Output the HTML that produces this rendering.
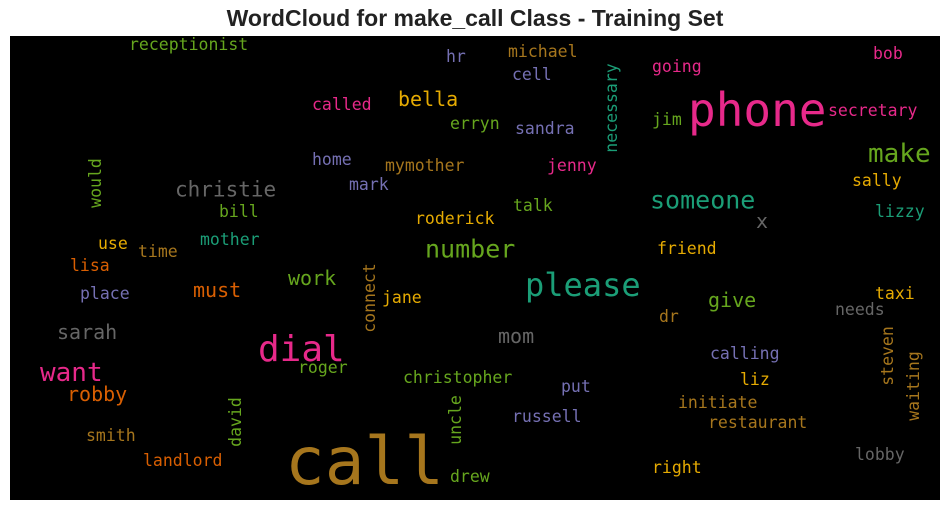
<!DOCTYPE html>
<html><head><meta charset="utf-8">
<style>
html,body{margin:0;padding:0;background:#fff;width:950px;height:511px;overflow:hidden}
#title{position:absolute;left:0;top:5px;width:950px;text-align:center;font:bold 23px "Liberation Sans",sans-serif;color:#222}
#cloud{position:absolute;left:10px;top:36px;width:930px;height:464px;background:#000;overflow:hidden}
.w{position:absolute;font-family:"DejaVu Sans Mono","Liberation Mono",monospace;line-height:1;white-space:nowrap}
</style></head><body>
<div id="title">WordCloud for make_call Class - Training Set</div>
<div id="cloud"></div>
<script>
const words=["call","phone","dial","please","want","number","someone","make","christie","sarah","robby","work","must","give","bella","mom","x",
"receptionist","michael","hr","cell","going","bob","called","erryn","sandra","jim","secretary","home","mymother","jenny","mark","sally","bill","roderick","talk","lizzy","use","time","mother","friend","lisa","place","jane","taxi","dr","needs","calling","roger","christopher","liz","put","initiate","russell","restaurant","smith","landlord","lobby","right","drew",
"would","necessary","connect","david","uncle","steven","waiting"];
const sizes=[66,46,36,32,26,25,25,26,21,20,20,20,20,20,20,20,20,
16.5,16.5,16.5,16.5,16.5,16.5,16.5,16.5,16.5,16.5,16.5,16.5,16.5,16.5,16.5,16.5,16.5,16.5,16.5,16.5,16.5,16.5,16.5,16.5,16.5,16.5,16.5,16.5,16.5,16.5,16.5,16.5,16.5,16.5,16.5,16.5,16.5,16.5,16.5,16.5,16.5,16.5,16.5,
16.5,16.5,16.5,16.5,16.5,16.5,16.5];
const P={teal:"#1b9e77",orange:"#d95f02",purple:"#7570b3",pink:"#e7298a",green:"#66a61e",yellow:"#e6ab02",brown:"#a6761d",gray:"#666666"};
const colors=["brown","pink","pink","teal","pink","green","teal","green","gray","gray","orange","green","orange","green","yellow","gray","gray",
"green","brown","purple","purple","pink","pink","pink","green","purple","green","pink","purple","brown","pink","purple","yellow","green","yellow","green","teal","yellow","brown","teal","yellow","orange","purple","yellow","yellow","brown","gray","purple","green","green","yellow","purple","brown","purple","brown","brown","orange","gray","yellow","green",
"green","teal","brown","green","green","brown","brown"];
const pos=[[285,462],[688,110],[258,350],[525,285],[40,373],[425,249],[650,200],[868,154],[175,190],[57,332],[67,394],[288,278],[193,290],[708,300],[398,99],[498,336],[756,221],
[129,45],[508,52],[446,57],[512,75],[652,67],[873,54],[312,105],[450,124],[515,129],[652,120],[828,111],[312,160],[385,166],[547,166],[349,185],[852,181],[219,212],[415,219],[513,206],[875,212],[98,244],[138,252],[200,240],[657,249],[70,266],[80,294],[382,298],[875,294],[659,317],[835,310],[710,354],[298,368],[403,378],[740,380],[561,387],[678,403],[512,417],[708,423],[86,436],[143,461],[855,455],[652,468],[450,477],
[96,183,1],[612,108,1],[370,298,1],[236,422,1],[456,420,1],[888,356,1],[914,386,1]];
const cloud=document.getElementById('cloud');
words.forEach((w,i)=>{
  const s=document.createElement('span');
  s.className='w';
  s.textContent=w;
  
  
  s.style.fontSize=sizes[i]+'px';
  s.style.color=P[colors[i]];
  const p=pos[i];
  s.style.left=(p[0]-10)+'px';s.style.top=(p[1]-36)+'px';
  s.style.transform=p[2]?'translate(-50%,-50%) rotate(-90deg)':'translateY(-50%)';
  cloud.appendChild(s);
});
</script>
</body></html>
